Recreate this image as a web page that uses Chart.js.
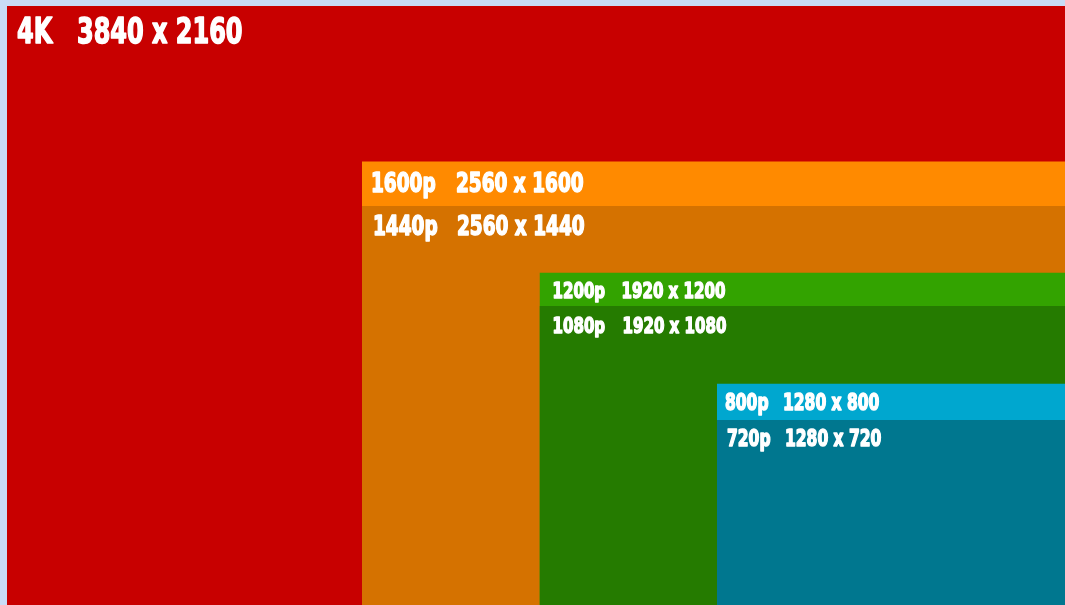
<!DOCTYPE html>
<html lang="en">
<head>
    <meta charset="UTF-8">
    <title>Display resolutions</title>
    <script src="https://cdn.jsdelivr.net/npm/chart.js"></script>
    <style>
        html, body { margin: 0; padding: 0; background: #c9dcf6; overflow: hidden; }
        .chart-container { position: relative; width: 1072px; height: 606px; }
    </style>
</head>
<body>
    <div class="chart-container">
        <canvas id="resChart"></canvas>
    </div>

    <script>
        // resolutions, biggest first (each box sits in the bottom-right corner)
        let categories = ["4K", "1600p", "1440p", "1200p", "1080p", "800p", "720p"];
        let widths = [3840, 2560, 2560, 1920, 1920, 1280, 1280];
        let heights = [2160, 1600, 1440, 1200, 1080, 800, 670];
        let resLabels = ["3840 x 2160", "2560 x 1600", "2560 x 1440", "1920 x 1200", "1920 x 1080", "1280 x 800", "1280 x 720"];

        let colors = ["#c80000", "#ff8a00", "#d57200", "#33a300", "#257b00", "#00a7cf", "#00778f"];
        let fontSizes = [36, 26, 26, 22, 22, 23, 23];
        let nameDx = [10, 9, 11, 13, 13, 8, 10];
        let resDx = [60, 85, 84, 69, 70, 58, 58];
        let capDy = [11, 12, 11, 10, 11, 10, 10];
        let squeeze = [0.74, 0.79, 0.79, 0.76, 0.76, 0.75, 0.75];

        const FONT = "'Liberation Sans Narrow', 'DejaVu Sans Condensed', 'Roboto', sans-serif";

        function drawSqueezed(ctx, text, x, y, sx) {
            ctx.save();
            ctx.translate(x, y);
            ctx.scale(sx, 1);
            ctx.fillText(text, 0, 0);
            ctx.strokeText(text, 0, 0);
            ctx.restore();
        }

        const boxLabels = {
            id: "boxLabels",
            afterDatasetsDraw(chart) {
                let ctx = chart.ctx;
                let xs = chart.scales.x, ys = chart.scales.y;
                ctx.save();
                ctx.fillStyle = "#ffffff";
                ctx.strokeStyle = "#ffffff";
                ctx.lineWidth = 1.5;
                ctx.lineJoin = "round";
                ctx.textBaseline = "alphabetic";
                categories.forEach((name, i) => {
                    let left = xs.getPixelForValue(widths[i]);
                    let top = ys.getPixelForValue(heights[i]);
                    let size = fontSizes[i];
                    ctx.font = "bold " + size + "px " + FONT;
                    let base = top + capDy[i] + size * 0.71;
                    let x = left + nameDx[i];
                    drawSqueezed(ctx, name, x, base, squeeze[i]);
                    drawSqueezed(ctx, resLabels[i], x + resDx[i], base, squeeze[i]);
                });
                ctx.restore();
            }
        };

        let datasets = categories.map((c, i) => ({
            label: c,
            data: [{ x: 0, y: heights[i] }, { x: widths[i], y: heights[i] }],
            backgroundColor: colors[i],
            borderWidth: 0,
            pointRadius: 0,
            fill: "origin",
            order: categories.length - i
        }));

        new Chart(document.getElementById("resChart").getContext("2d"), {
            type: "line",
            data: { datasets: datasets },
            options: {
                responsive: true,
                maintainAspectRatio: false,
                animation: false,
                layout: { padding: { left: 7, top: 6, right: 0, bottom: 0 } },
                plugins: { legend: { display: false }, tooltip: { enabled: false } },
                scales: {
                    x: { type: "linear", reverse: true, min: 0, max: 3840, display: false },
                    y: { type: "linear", min: 0, max: 2160, display: false }
                }
            },
            plugins: [boxLabels]
        });
    </script>
</body>
</html>
